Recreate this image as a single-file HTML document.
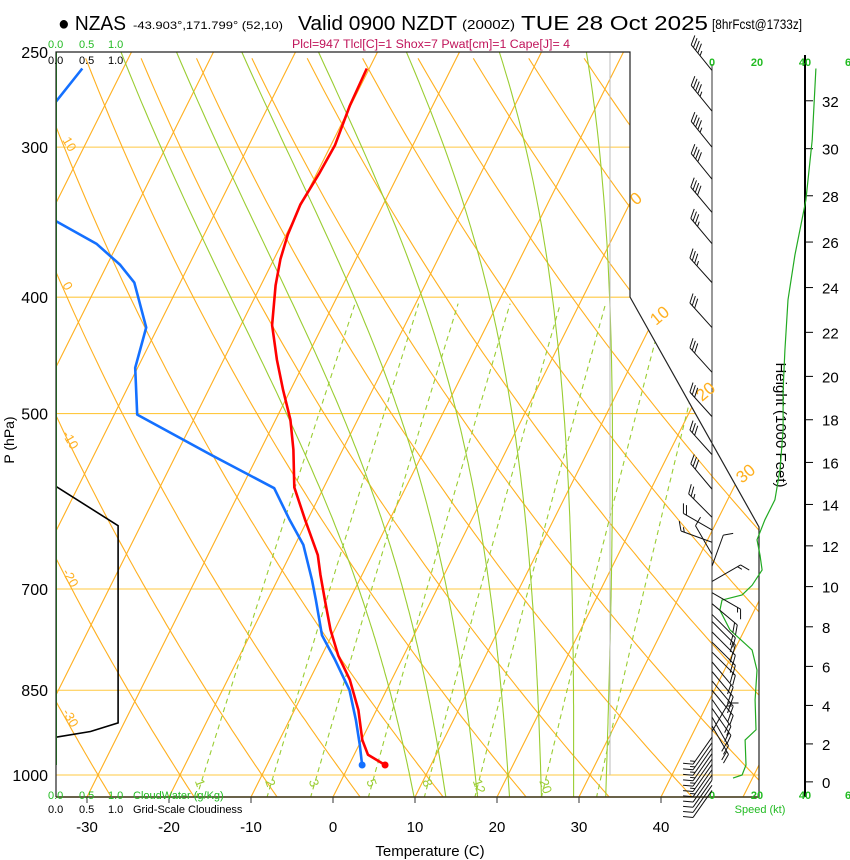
<!DOCTYPE html>
<html><head><meta charset="utf-8"><style>
html,body{margin:0;padding:0;background:#fff;}
svg{display:block;font-family:"Liberation Sans",sans-serif;}
</style></head><body>
<svg id="chart" width="850" height="860" viewBox="0 0 850 860" xmlns="http://www.w3.org/2000/svg">
<defs><clipPath id="plotclip"><polygon points="56,52 630,52 630,297 759,527 759,797 56,797"/></clipPath></defs>
<g>
<text x="58" y="30" font-size="20" textLength="68" lengthAdjust="spacingAndGlyphs">● NZAS</text>
<text x="133" y="29" font-size="11" textLength="150" lengthAdjust="spacingAndGlyphs">-43.903°,171.799° (52,10)</text>
<text x="298" y="30" font-size="20" textLength="159" lengthAdjust="spacingAndGlyphs">Valid 0900 NZDT</text>
<text x="462" y="29" font-size="13" textLength="53" lengthAdjust="spacingAndGlyphs">(2000Z)</text>
<text x="521" y="30" font-size="20" textLength="187" lengthAdjust="spacingAndGlyphs">TUE 28 Oct 2025</text>
<text x="712" y="29" font-size="14" textLength="90" lengthAdjust="spacingAndGlyphs">[8hrFcst@1733z]</text>
<text x="292" y="48" font-size="11.5" fill="#c0145a" textLength="278" lengthAdjust="spacingAndGlyphs">Plcl=947 Tlcl[C]=1 Shox=7 Pwat[cm]=1 Cape[J]= 4</text>
</g>
<g id="grid" clip-path="url(#plotclip)"></g>
<g id="profiles" clip-path="url(#plotclip)"></g>
<g id="frame"></g>
<g id="labels"></g>
<g id="wind"></g>
</svg>
<script>
// ---- data ----
const tempP   = [258,277,299,316,335,355,372,391,422,451,478,506,536,576,613,656,681,715,757,795,833,883,935,962,981];
const tempC   = [-40.3,-40.1,-39.5,-39.7,-40.1,-39.8,-39.2,-38.2,-36.2,-33.5,-30.9,-28.2,-26.0,-23.6,-20.3,-16.6,-15.1,-13.0,-10.5,-8.0,-5.1,-2.2,0.1,1.7,4.4];
const dewP    = [258,275,300,330,346,361,376,389,424,458,501,541,577,613,643,688,715,765,802,850,900,944,981];
const dewC    = [-75.0,-76.2,-85,-82,-68.8,-62.6,-58.4,-55.6,-51.4,-50.3,-47.2,-35.8,-26.0,-22.2,-19.0,-15.8,-14.1,-11.2,-8.1,-4.5,-1.9,0.1,1.6];
const isotherms = [-110,-100,-90,-80,-70,-60,-50,-40,-30,-20,-10,0,10,20,30,40,50];
const dryAdiabats = [-40,-30,-20,-10,0,10,20,30,40,50,60,70,80,90,100,110,120,130,140,150];
const moistAdiabats = [8,12,16,20,24,28,32];
const mixRatios = [1,2,3,5,8,12,20,30];
const mixLabels = ["1","2","3","5","8","12","20"];
const pressureTicks = [250,300,400,500,700,850,1000];
const guideLevels = [300,400,500,700,850,1000];
const tempTicks = [-30,-20,-10,0,10,20,30,40];
const heightTicks = [0,2,4,6,8,10,12,14,16,18,20,22,24,26,28,30,32];
const speedP = [258,296,332,369,402,443,478,516,557,590,613,637,656,675,695,708,715,729,757,787,818,866,917,935,981,1000,1006];
const speedKt = [44.6,43.0,40.3,35.6,32.6,31.3,30.5,30.5,29.2,27.0,22.7,19.3,20.6,21.5,17.2,12.9,4.3,3.4,7.7,17.2,19.3,18.5,18.9,14.2,14.6,12.9,9.0];
const barbP   = [259,280,300,319,340,361,389,424,462,503,541,578,610,625,640,655,670,690,705,720,735,745,760,775,790,805,820,835,850,865,880,895,910,920,930,940,950,960,970,980,990,1000,1010,1020,1030];
const barbDir = [321,321,321,321,320,320,318,318,318,318,318,320,315,300,290,330,20,60,120,130,135,135,135,135,135,140,140,140,140,145,145,150,150,30,215,215,215,215,215,215,215,215,215,215,215];
const barbSpd = [45,43,43,42,40,37,33,32,31,30,30,28,23,20,15,10,12,15,17,18,19,19,19,19,19,19,19,19,18,18,18,18,18,17,14,14,15,14,14,13,13,12,12,11,10];
const cloudP = [575,620,620,905,920,930];
const cloudFrac = [0,0.9,0.9,0.9,0.5,0];

// ---- axes ----
const Y0=775, PY=521.5, X0=333, DX=8.2, SK=0.5, YB=797;
function yP(p){return Y0-PY*Math.log(1000/p);}
function xT(t,y){return X0+DX*t+SK*(YB-y);}
const NS="http://www.w3.org/2000/svg";
function mk(tag,parent,attrs){const e=document.createElementNS(NS,tag);for(const k in attrs)e.setAttribute(k,attrs[k]);parent.appendChild(e);return e;}
const grid=document.getElementById('grid'), prof=document.getElementById('profiles'), frame=document.getElementById('frame'), labels=document.getElementById('labels'), wind=document.getElementById('wind');
const ORANGE="#ffb020", GREEN="#9acd32";
function ptsStr(a){return a.map(q=>q[0].toFixed(1)+","+q[1].toFixed(1)).join(" ");}

guideLevels.forEach(p=>{
  const l=mk('line',grid,{x1:56,x2:760,y1:yP(p),y2:yP(p),stroke:"#ffc840","stroke-width":1.1});
  
  
});
isotherms.forEach(t=>{
  const l=mk('line',grid,{x1:xT(t,YB),y1:YB,x2:xT(t,52),y2:52,stroke:ORANGE,"stroke-width":1.1});
  
  
});
dryAdiabats.forEach(th=>{
  const pts=[];
  for(let p=1045;p>=248;p-=8){const T=(th+273.15)*Math.pow(p/1000,0.2857)-273.15;const y=yP(p);pts.push([xT(T,y),y]);}
  const l=mk('polyline',grid,{points:ptsStr(pts),fill:"none",stroke:ORANGE,"stroke-width":1.1});
  
  
});
function es(tc){return 6.112*Math.exp(17.67*tc/(tc+243.5));}
function dTdp(T,p){const tc=T-273.15;const e=es(tc);const rs=0.622*e/(p-e);
  return (287*T+2.5e6*rs)/(p*(1004+2.5e6*2.5e6*rs*0.622/(287*T*T)));}
moistAdiabats.forEach(tw=>{
  let T=tw+273.15,p=1000;
  let Td=T,pd=1000; for(;pd<1045;pd+=5){Td+=dTdp(Td,pd)*5;}
  const pts=[];const yd=yP(pd);pts.push([xT(Td-273.15,yd),yd]);
  for(;p>=248;p-=5){const y=yP(p);pts.push([xT(T-273.15,y),y]);T-=dTdp(T,p)*5;}
  const l=mk('polyline',grid,{points:ptsStr(pts),fill:"none",stroke:GREEN,"stroke-width":1.1});
  
  
});
mixRatios.forEach(w=>{
  const pts=[];
  for(let p=1045;p>=400;p-=10){const e=w*p/(622+w);const L=Math.log(e/6.112);const T=243.5*L/(17.67-L);const y=yP(p);pts.push([xT(T,y),y]);}
  const l=mk('polyline',grid,{points:ptsStr(pts),fill:"none",stroke:GREEN,"stroke-width":1.1,"stroke-dasharray":"5,4"});
  
  
});
const rv=mk('line',grid,{x1:610,x2:610,y1:52,y2:775,stroke:"#bbbbbb","stroke-width":1});


const cpts=cloudP.map((p,i)=>[56+cloudFrac[i]*69,yP(p)]);
const cl=mk('polyline',prof,{points:ptsStr(cpts),fill:"none",stroke:"#000","stroke-width":1.6});


const dpts=dewP.map((p,i)=>{const y=yP(p);return [xT(dewC[i],y),y];});
const dl=mk('polyline',prof,{points:ptsStr(dpts),fill:"none",stroke:"#1470ff","stroke-width":2.6,"stroke-linejoin":"round"});


const tpts=tempP.map((p,i)=>{const y=yP(p);return [xT(tempC[i],y),y];});
const tl=mk('polyline',prof,{points:ptsStr(tpts),fill:"none",stroke:"#ff0000","stroke-width":2.6,"stroke-linejoin":"round"});


const dd=dpts[dpts.length-1], td=tpts[tpts.length-1];
const c1=mk('circle',prof,{cx:dd[0],cy:dd[1],r:3.5,fill:"#1470ff"});


const c2=mk('circle',prof,{cx:td[0],cy:td[1],r:3.5,fill:"#ff0000"});


const gl=mk('line',prof,{x1:56,x2:56,y1:52,y2:765,stroke:"#22bb22","stroke-width":2});



const fr=mk('polyline',frame,{points:"56,797 56,52 630,52 630,297 759,527 759,797 56,797",fill:"none",stroke:"#222","stroke-width":1.2});


const fb=mk('line',frame,{x1:56,x2:759,y1:797,y2:797,stroke:"#4a4020","stroke-width":1.5});


const sp0=mk('line',frame,{x1:712,x2:712,y1:64,y2:780,stroke:"#333","stroke-width":1});


const ha=mk('line',frame,{x1:805,x2:805,y1:55,y2:797,stroke:"#000","stroke-width":2});



function txt(parent,x,y,s,attrs,name){const t=mk('text',parent,Object.assign({x:x,y:y},attrs));t.textContent=s;return t;}
pressureTicks.forEach(p=>txt(labels,48,yP(p)+6,String(p),{"font-size":16,"text-anchor":"end"},'pressure-tick-label'));
tempTicks.forEach(t=>{
  txt(labels,xT(t,YB),832,String(t),{"font-size":15,"text-anchor":"middle"},'temperature-tick-label');
  const k=mk('line',labels,{x1:xT(t,YB),x2:xT(t,YB),y1:797,y2:803,stroke:"#333"});
  
  
});
txt(labels,430,856,"Temperature (C)",{"font-size":15,"text-anchor":"middle"},'x-axis-title');
txt(labels,0,0,"P (hPa)",{"font-size":14,"text-anchor":"middle",transform:"translate(14,440) rotate(-90)"},'y-axis-title');
txt(labels,0,0,"Height (1000 Feet)",{"font-size":15,"text-anchor":"middle",transform:"translate(776,425) rotate(90)"},'height-axis-title');
heightTicks.forEach(h=>{
  const m=h*1000*0.3048;const p=1013.25*Math.pow(1-2.25577e-5*m,5.25588);const y=yP(p);
  const k=mk('line',labels,{x1:805,x2:813,y1:y,y2:y,stroke:"#000"});
  
  
  txt(labels,822,y+6,String(h),{"font-size":15},'height-tick-label');
});
[[10,62,140],[0,62,285],[-10,62,434],[-20,62,572],[-30,62,712]].forEach(a=>txt(labels,0,0,String(a[0]),{"font-size":13,fill:ORANGE,transform:"translate("+a[1]+","+a[2]+") rotate(60)"},'dry-adiabat-label'));
[[0,636,206],[10,656,326],[20,702,402],[30,742,484]].forEach(a=>txt(labels,0,0,String(a[0]),{"font-size":17,fill:ORANGE,transform:"translate("+a[1]+","+a[2]+") rotate(-40)"},'isotherm-label'));
mixLabels.forEach((s,i)=>{
  const w=mixRatios[i],p=1030;const e=w*p/(622+w);const L=Math.log(e/6.112);const T=243.5*L/(17.67-L);
  txt(labels,0,0,s,{"font-size":13,fill:GREEN,transform:"translate("+(xT(T,yP(p))-4)+",781) rotate(70)"},'mixing-ratio-label');
});
[["0.0",48],["0.5",79],["1.0",108]].forEach(a=>{
  txt(labels,a[1],48,a[0],{"font-size":11,fill:"#22bb22"},'cloudwater-scale-top');
  txt(labels,a[1],64,a[0],{"font-size":11},'cloudiness-scale-top');
  txt(labels,a[1],799,a[0],{"font-size":11,fill:"#22bb22"},'cloudwater-scale-bottom');
  txt(labels,a[1],813,a[0],{"font-size":11},'cloudiness-scale-bottom');
});
txt(labels,133,799,"CloudWater (g/Kg)",{"font-size":11,fill:"#22bb22"},'cloudwater-title');
txt(labels,133,813,"Grid-Scale Cloudiness",{"font-size":11},'cloudiness-title');
[["0",712],["20",757],["40",805],["6",848]].forEach(a=>{
  txt(labels,a[1],66,a[0],{"font-size":11,"font-weight":"bold",fill:"#22bb22","text-anchor":"middle"},'speed-scale-top');
  txt(labels,a[1],799,a[0],{"font-size":11,"font-weight":"bold",fill:"#22bb22","text-anchor":"middle"},'speed-scale-bottom');
});
txt(labels,760,813,"Speed (kt)",{"font-size":11,fill:"#22bb22","text-anchor":"middle"},'speed-axis-title');

const sx=s=>712+s*2.33;
const spts=speedP.map((p,i)=>[sx(speedKt[i]),yP(p)]);
const sl=mk('polyline',wind,{points:ptsStr(spts),fill:"none",stroke:"#22aa22","stroke-width":1.2});


barbP.forEach((p,i)=>{
  const y=yP(p),x=712,r=barbDir[i]*Math.PI/180;
  const ux=Math.sin(r),uy=-Math.cos(r);
  const L=33,tx=x+ux*L,ty=y+uy*L;
  const g=mk('g',wind,{stroke:"#111","stroke-width":1,fill:"none"});
  
  
  mk('line',g,{x1:x,y1:y,x2:tx,y2:ty});
  const px=-uy,py=ux;
  const fx=ux*0.5+px*0.87, fy=uy*0.5+py*0.87;
  let s=Math.round(barbSpd[i]/5)*5,pos=0;
  while(s>=10){const bx=tx-ux*pos,by=ty-uy*pos;mk('line',g,{x1:bx,y1:by,x2:bx+fx*10,y2:by+fy*10});pos+=3.5;s-=10;}
  if(s>=5){if(pos===0)pos=3.5;const bx=tx-ux*pos,by=ty-uy*pos;mk('line',g,{x1:bx,y1:by,x2:bx+fx*5,y2:by+fy*5});}
});
</script>
</body></html>
